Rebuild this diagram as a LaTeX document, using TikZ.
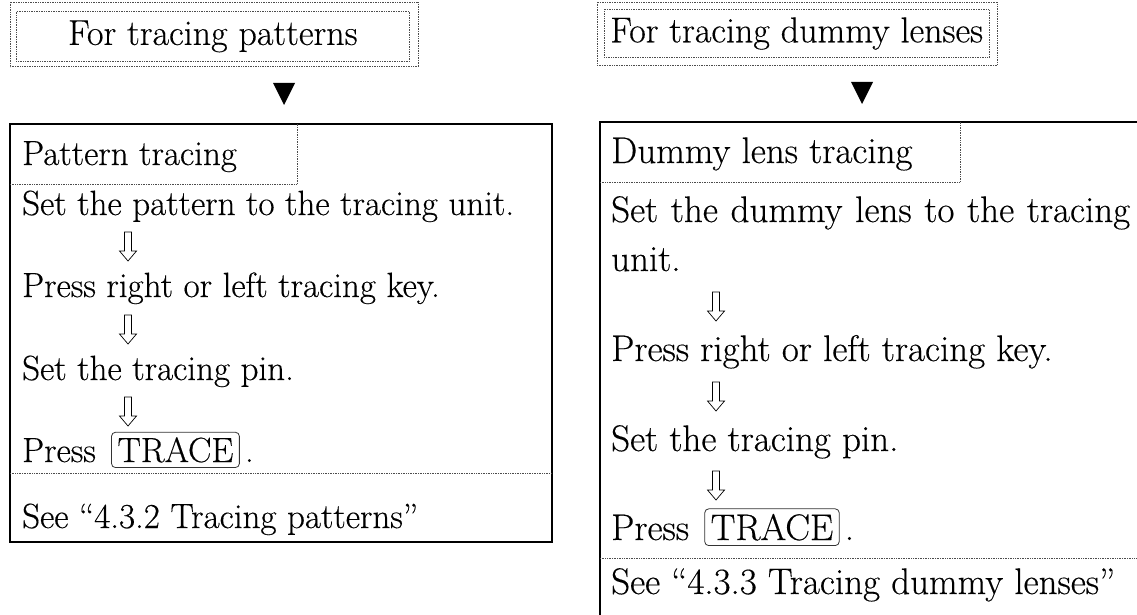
\documentclass[tikz,border=0pt]{standalone}
\usepackage{fontspec}
\setmainfont{Latin Modern Roman}[FakeBold=0.35]
\begin{document}
\begin{tikzpicture}[x=1pt,y=-1pt,
  font=\fontsize{35}{42}\selectfont,
  txt/.style={anchor=base west, inner sep=0pt},
  wide/.style={txt, font=\fontsize{37}{44}\selectfont},
  frame/.style={draw=black, line width=1.6pt},
  thinrule/.style={draw=black!70, line width=0.7pt, densely dotted},
  headbox/.style={thinrule, inner xsep=6pt, inner ysep=8pt, font=\fontsize{36}{43}\selectfont},
  keycap/.style={draw=black!80, line width=0.8pt, rounded corners=4pt,
                 inner xsep=6pt, inner ysep=5pt, anchor=base west},
  marker/.style={fill=black, draw=none},
  hollowdown/.pic={
    \draw[line width=0.7pt, line join=miter]
      (-3.5,-15) -- (-3.5,4) -- (-8.5,4) -- (0,14) -- (8.5,4) -- (3.5,4)
      -- (3.5,-15) -- cycle;
  }]
\useasboundingbox (0,0) rectangle (1137,615);
\clip (0,0) rectangle (1137,615);

% ---------------- headers ----------------
\node (hl) [headbox, minimum width=393pt, minimum height=50pt, anchor=north west]
  at (16,11) {For tracing patterns};
\draw[thinrule] ([shift={(-6,-9)}]hl.north west) rectangle ([shift={(9,5)}]hl.south east);

\node (hr) [headbox, minimum width=383pt, minimum height=45pt, anchor=north west]
  at (604,9) {For tracing dummy lenses};
\draw[thinrule] ([shift={(-7,-7)}]hr.north west) rectangle ([shift={(8,7)}]hr.south east);

% arrowheads below the headers
\fill[marker] (273,83) -- (295,83) -- (284,105) -- cycle;
\fill[marker] (851,82) -- (873,82) -- (862,104) -- cycle;

% ---------------- left panel ----------------
\draw[frame] (10,124) rectangle (552,542);
\draw[thinrule] (10,184) -| (297,124);
\draw[thinrule] (10,473) -- (552,473);

\node (lt) [txt] at (22,165) {Pattern tracing};
\node (l1) [txt] at (22,215) {Set the pattern to the tracing unit.};
\node (l2) [txt] at (22,297) {Press right or left tracing key.};
\node (l3) [txt] at (22,380) {Set the tracing pin.};
\node (l4) [txt] at (22,462) {Press};
\node (lk) [keycap] at ([xshift=15pt]l4.base east) {TRACE};
\node (lp) [txt] at ([xshift=5pt]lk.base east) {.};
\node (ls) [txt] at (22,528) {See “4.3.2 Tracing patterns”};

\pic at (128,247) {hollowdown};
\pic at (128,330) {hollowdown};
\pic at (128,412) {hollowdown};

% ---------------- right panel ----------------
\draw[frame] (600,640) -- (600,122) -- (1145,122);
\draw[thinrule] (600,182) -| (960,122);
\draw[thinrule] (600,558) -- (1145,558);

\node (rt) [wide] at (611,163) {Dummy lens tracing};
\node (r1) [wide] at (611,222) {\makebox[519pt][s]{Set the dummy lens to the tracing}};
\node (r1b) [wide] at (611,271) {unit.};
\node (r2) [wide] at (611,361) {Press right or left tracing key.};
\node (r3) [wide] at (611,451) {Set the tracing pin.};
\node (r4) [wide] at (611,540) {Press};
\node (rk) [keycap, font=\fontsize{37}{44}\selectfont] at ([xshift=15pt]r4.base east) {TRACE};
\node (rp) [wide] at ([xshift=5pt]rk.base east) {.};
\node (rs) [wide] at (611,594) {See “4.3.3 Tracing dummy lenses”};

\pic at (716,307) {hollowdown};
\pic at (716,397) {hollowdown};
\pic at (716,486) {hollowdown};
\end{tikzpicture}
\end{document}
